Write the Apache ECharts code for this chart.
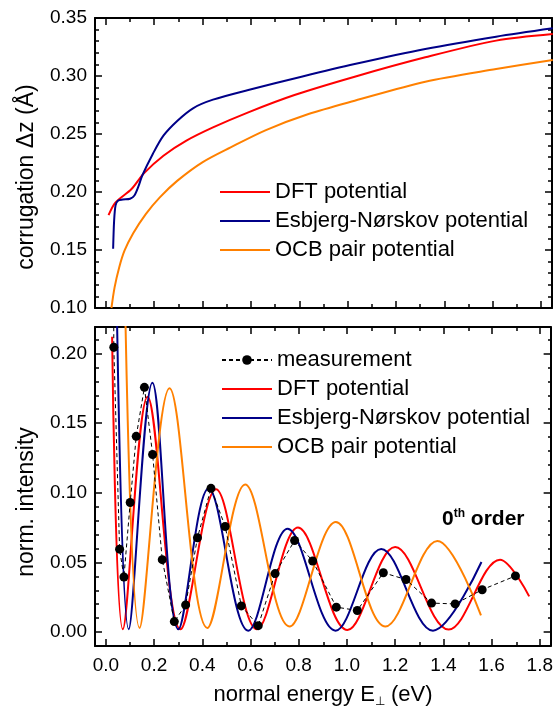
<!DOCTYPE html>
<html>
<head>
<meta charset="utf-8">
<script src="https://cdn.jsdelivr.net/npm/echarts@6/dist/echarts.min.js"></script>
<style>
  html, body { margin: 0; padding: 0; background: #fff; }
  #chart { width: 556px; height: 715px; }
</style>
</head>
<body>
<div id="chart"></div>
<script>
// ---- upper panel: corrugation amplitude vs normal energy ----
const corrDftE = [0.011, 0.040, 0.106, 0.157, 0.238, 0.333, 0.443, 0.589, 0.780, 1.029, 1.321, 1.614, 1.848];
const corrDftZ = [0.180, 0.191, 0.2026, 0.2161, 0.2313, 0.2443, 0.2557, 0.2687, 0.2836, 0.2994, 0.3161, 0.3305, 0.3362];

const corrEnE = [0.030, 0.034, 0.040, 0.050, 0.070, 0.100, 0.118, 0.135, 0.150, 0.194, 0.238, 0.296, 0.362, 0.443, 0.589, 0.809, 1.029, 1.321, 1.614, 1.848];
const corrEnZ = [0.151, 0.175, 0.1885, 0.1925, 0.1935, 0.1942, 0.197, 0.205, 0.2140, 0.2328, 0.2486, 0.2615, 0.2724, 0.2796, 0.2879, 0.2994, 0.3103, 0.3233, 0.3339, 0.3411];

const corrOcbE = [0.023, 0.036, 0.055, 0.077, 0.113, 0.165, 0.223, 0.296, 0.399, 0.516, 0.662, 0.838, 1.029, 1.321, 1.614, 1.848];
const corrOcbZ = [0.100, 0.1178, 0.135, 0.1494, 0.1645, 0.181, 0.1954, 0.2098, 0.2256, 0.2385, 0.2534, 0.2672, 0.2787, 0.2951, 0.306, 0.3138];

// ---- lower panel: specular (0th order) intensity ----
const measE = [0.029, 0.033, 0.057, 0.075, 0.101, 0.126, 0.160, 0.194, 0.234, 0.284, 0.331, 0.380, 0.436, 0.495, 0.562, 0.632, 0.702, 0.783, 0.858, 0.956, 1.043, 1.151, 1.245, 1.351, 1.449, 1.561, 1.699];
const measI = [0.45, 0.2045, 0.0595, 0.0395, 0.093, 0.1405, 0.1757, 0.1275, 0.052, 0.0075, 0.0195, 0.0677, 0.1032, 0.0758, 0.0188, 0.0046, 0.042, 0.0657, 0.051, 0.0179, 0.0155, 0.0426, 0.0377, 0.0208, 0.0202, 0.0304, 0.0403];

const intDftE = [0.026, 0.0705, 0.173, 0.310, 0.457, 0.627, 0.797, 1.002, 1.200, 1.422, 1.635, 1.756];
const intDftI = [0.212, 0.002, 0.169, 0.002, 0.1025, 0.002, 0.075, 0.0015, 0.061, 0.0018, 0.052, 0.0256];

const intEnE = [0.040, 0.095, 0.193, 0.301, 0.426, 0.591, 0.754, 0.953, 1.142, 1.357, 1.558];
const intEnI = [0.30, 0.002, 0.179, 0.002, 0.103, 0.001, 0.0742, 0.001, 0.0596, 0.001, 0.0503];

const intOcbE = [0.074, 0.140, 0.264, 0.421, 0.578, 0.762, 0.954, 1.160, 1.375, 1.556];
const intOcbI = [0.30, 0.003, 0.175, 0.003, 0.106, 0.004, 0.079, 0.004, 0.0654, 0.012];

// ---- tick positions ----
const energyMajor = [0.0, 0.2, 0.4, 0.6, 0.8, 1.0, 1.2, 1.4, 1.6, 1.8];
const energyMinor = [0.1, 0.3, 0.5, 0.7, 0.9, 1.1, 1.3, 1.5, 1.7];
const corrMajor = [0.10, 0.15, 0.20, 0.25, 0.30, 0.35];
const corrMinor = [0.11, 0.12, 0.13, 0.14, 0.16, 0.17, 0.18, 0.19, 0.21, 0.22, 0.23, 0.24,
                   0.26, 0.27, 0.28, 0.29, 0.31, 0.32, 0.33, 0.34];
const intMajor = [0.00, 0.05, 0.10, 0.15, 0.20];
const intMinor = [0.01, 0.02, 0.03, 0.04, 0.06, 0.07, 0.08, 0.09, 0.11, 0.12, 0.13, 0.14,
                  0.16, 0.17, 0.18, 0.19, 0.21];

const FONT = '"Liberation Sans", Arial, Helvetica, sans-serif';
const E_MIN = -0.045, E_MAX = 1.845;
const CORR_MIN = 0.10, CORR_MAX = 0.35;
const INT_MIN = -0.01, INT_MAX = 0.219;

const RED = '#ff0000', BLUE = '#000088', ORANGE = '#ff8000';

// thin bar used as a plain-line legend key
const LINE_ICON = 'path://M0,0L50,0L50,2.2L0,2.2Z';

function zip(xs, ys) { return xs.map((x, i) => [x, ys[i]]); }

// A pair of mirrored axes (bottom/top or left/right) carrying one set of inward ticks.
function frameAxes(gridIndex, isX, min, max, ticks, len, withLine, labelFmt) {
  const sides = isX ? ['bottom', 'top'] : ['left', 'right'];
  return sides.map((side, k) => ({
    type: 'value', gridIndex, position: side, min, max,
    axisLine: { show: withLine, onZero: false, lineStyle: { color: '#000', width: 2 } },
    axisTick: { show: true, inside: true, length: len, customValues: ticks,
                lineStyle: { color: '#000', width: 1.5 } },
    axisLabel: (k === 0 && labelFmt)
      ? { show: true, customValues: ticks, formatter: labelFmt, color: '#000',
          fontSize: 19, fontFamily: FONT, margin: isX ? 10 : 8 }
      : { show: false },
    splitLine: { show: false },
    axisPointer: { show: false }
  }));
}

const fmt1 = v => v.toFixed(1);
const fmt2 = v => v.toFixed(2);

const upperRect = { left: 95, right: 4, top: 18, height: 290 };
const lowerRect = { left: 95, right: 4, top: 327, height: 319 };

const xAxes = [
  ...frameAxes(0, true, E_MIN, E_MAX, energyMajor, 7, true, null),
  ...frameAxes(1, true, E_MIN, E_MAX, energyMinor, 4, false, null),
  ...frameAxes(2, true, E_MIN, E_MAX, energyMajor, 7, true, fmt1),
  ...frameAxes(3, true, E_MIN, E_MAX, energyMinor, 4, false, null)
];
const yAxes = [
  ...frameAxes(0, false, CORR_MIN, CORR_MAX, corrMajor, 7, true, fmt2),
  ...frameAxes(1, false, CORR_MIN, CORR_MAX, corrMinor, 4, false, null),
  ...frameAxes(2, false, INT_MIN, INT_MAX, intMajor, 7, true, fmt2),
  ...frameAxes(3, false, INT_MIN, INT_MAX, intMinor, 4, false, null)
];

function curve(name, color, xs, ys, axis, smooth) {
  return {
    name, type: 'line', xAxisIndex: axis, yAxisIndex: axis,
    data: zip(xs, ys), symbol: 'none', smooth: smooth,
    lineStyle: { color, width: 2 }, itemStyle: { color },
    clip: true, silent: true, z: 3
  };
}

const legendText = { color: '#000', fontSize: 22, fontFamily: FONT, lineHeight: 22 };
const modelKeys = [
  { name: 'DFT potential', icon: LINE_ICON },
  { name: 'Esbjerg-Nørskov potential', icon: LINE_ICON },
  { name: 'OCB pair potential', icon: LINE_ICON }
];

const option = {
  animation: false,
  backgroundColor: '#fff',
  grid: [upperRect, upperRect, lowerRect, lowerRect].map(r => Object.assign({ containLabel: false }, r)),
  xAxis: xAxes,
  yAxis: yAxes,
  legend: [
    {
      data: modelKeys,
      orient: 'vertical', left: 220, top: 181, padding: 0,
      itemWidth: 50, itemHeight: 12, itemGap: 7, symbolKeepAspect: true,
      textStyle: legendText, selectedMode: false
    },
    {
      data: [{ name: 'measurement' }].concat(modelKeys),
      orient: 'vertical', left: 221, top: 349, padding: 0,
      itemWidth: 50, itemHeight: 12, itemGap: 7, symbolKeepAspect: true,
      textStyle: legendText, selectedMode: false
    }
  ],
  series: [
    curve('DFT potential', RED, corrDftE, corrDftZ, 0, 0.3),
    curve('Esbjerg-Nørskov potential', BLUE, corrEnE, corrEnZ, 0, 0.3),
    curve('OCB pair potential', ORANGE, corrOcbE, corrOcbZ, 0, 0.3),
    curve('DFT potential', RED, intDftE, intDftI, 4, 0.36),
    curve('Esbjerg-Nørskov potential', BLUE, intEnE, intEnI, 4, 0.36),
    curve('OCB pair potential', ORANGE, intOcbE, intOcbI, 4, 0.36),
    {
      name: 'measurement', type: 'line', xAxisIndex: 4, yAxisIndex: 4,
      data: zip(measE, measI),
      symbol: 'circle', symbolSize: 9, showSymbol: true,
      lineStyle: { color: '#000', width: 1, type: [4, 3] },
      itemStyle: { color: '#000' },
      clip: true, silent: true, z: 5
    }
  ],
  graphic: [
    {
      type: 'text', x: 27, y: 177, rotation: Math.PI / 2,
      style: { text: 'corrugation Δz (Å)', font: '23px ' + FONT, fill: '#000',
               align: 'center', verticalAlign: 'middle' }
    },
    {
      type: 'text', x: 27, y: 502, rotation: Math.PI / 2,
      style: { text: 'norm. intensity', font: '23px ' + FONT, fill: '#000',
               align: 'center', verticalAlign: 'middle' }
    },
    {
      type: 'text', x: 323, y: 695,
      style: {
        text: '{t|normal energy E}{s|⊥}{t| (eV)}',
        align: 'center', verticalAlign: 'middle', fill: '#000',
        rich: {
          t: { fontSize: 22, fontFamily: FONT, fill: '#000' },
          s: { fontSize: 12, fontFamily: FONT, fill: '#000', padding: [14, 0, 0, 0] }
        }
      }
    },
    {
      type: 'text', x: 442, y: 519,
      style: {
        text: '{a|0}{b|th}{a| order}',
        align: 'left', verticalAlign: 'middle', fill: '#000',
        rich: {
          a: { fontSize: 21, fontWeight: 'bold', fontFamily: FONT, fill: '#000' },
          b: { fontSize: 12, fontWeight: 'bold', fontFamily: FONT, fill: '#000', padding: [0, 0, 10, 0] }
        }
      }
    }
  ]
};

const chart = echarts.init(document.getElementById('chart'), null, { renderer: 'canvas' });
chart.setOption(option);
</script>
</body>
</html>
